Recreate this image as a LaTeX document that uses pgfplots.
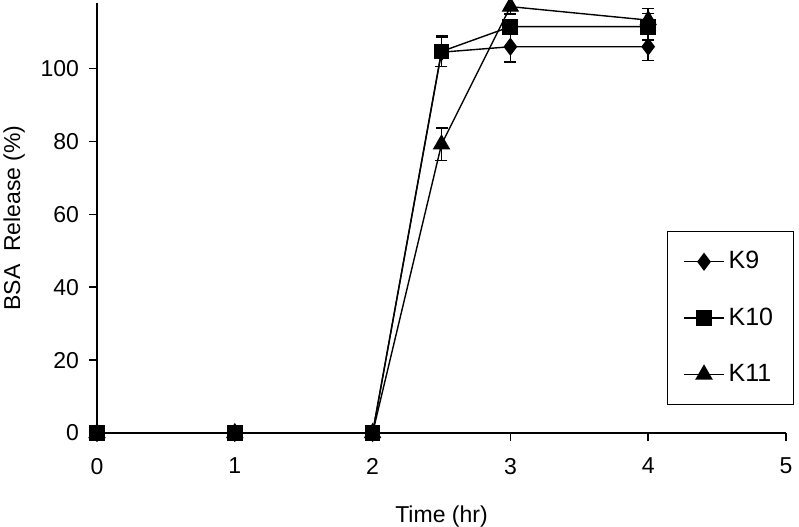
\documentclass[border=0pt]{standalone}
\usepackage{pgfplots}
\pgfplotsset{compat=1.18}
\usepackage{fontspec}
\setmainfont{Liberation Sans}
\begin{document}
\begin{tikzpicture}
\begin{axis}[
  scale only axis,
  width=344.5pt, height=215pt,
  xmin=0, xmax=5, ymin=0, ymax=118,
  axis lines*=left,
  axis line style={line width=0.8pt},
  xtick={0,1,2,3,4,5},
  ytick={0,20,40,60,80,100},
  tick align=outside,
  major tick length=4pt,
  tick style={line width=0.8pt, black},
  font=\fontsize{11.5}{13}\selectfont,
  /pgf/number format/assume math mode=true,
  xticklabel style={yshift=-5pt},
  yticklabel style={xshift=-1.5pt},
  xlabel={Time (hr)},
  ylabel={BSA\ \ Release (\%)},
  xlabel style={yshift=-9pt},
  ylabel style={yshift=1pt},
  clip=false,
  legend style={at={(0.827,0.470)}, anchor=north west, draw=black,
    line width=0.6pt, fill=white, font=\fontsize{12.5}{14}\selectfont,
    row sep=14pt, inner xsep=8pt, inner ysep=8pt, cells={anchor=west}},
  legend image code/.code={
    \draw[mark repeat=2,mark phase=2] plot coordinates {(0cm,0cm) (0.35cm,0cm) (0.7cm,0cm)};},
  error bars/error bar style={line width=0.7pt, black},
  error bars/error mark options={rotate=90, mark size=3pt, line width=0.7pt},
]
\addplot[black, line width=0.7pt, mark=diamond*, mark size=4pt, mark options={solid, fill=black},
  error bars/.cd, y dir=both, y explicit]
  coordinates {(0,0) (1,0) (2,0) (2.5,104.5) +- (0,4) (3,106) +- (0,4.2) (4,106) +- (0,3.8)};
\addlegendentry{K9}
\addplot[black, line width=0.7pt, mark=square*, mark size=3.6pt, mark options={solid, fill=black},
  error bars/.cd, y dir=both, y explicit]
  coordinates {(0,0) (1,0) (2,0) (2.5,104.7) +- (0,4.2) (3,111.5) +- (0,2) (4,111.5) +- (0,3.7)};
\addlegendentry{K10}
\addplot[black, line width=0.7pt, mark=triangle*, mark size=4.4pt, mark options={solid, fill=black},
  error bars/.cd, y dir=both, y explicit]
  coordinates {(0,0) (1,0) (2,0) (2.5,79.2) +- (0,4.5) (3,117) +- (0,2) (4,113.3) +- (0,3.2)};
\addlegendentry{K11}
\coordinate (O) at (rel axis cs:0,0);
\end{axis}
\pgfresetboundingbox
\path (O) ++(-48.5pt,-46.5pt) rectangle ++(399.5pt,263pt);
\end{tikzpicture}
\end{document}
